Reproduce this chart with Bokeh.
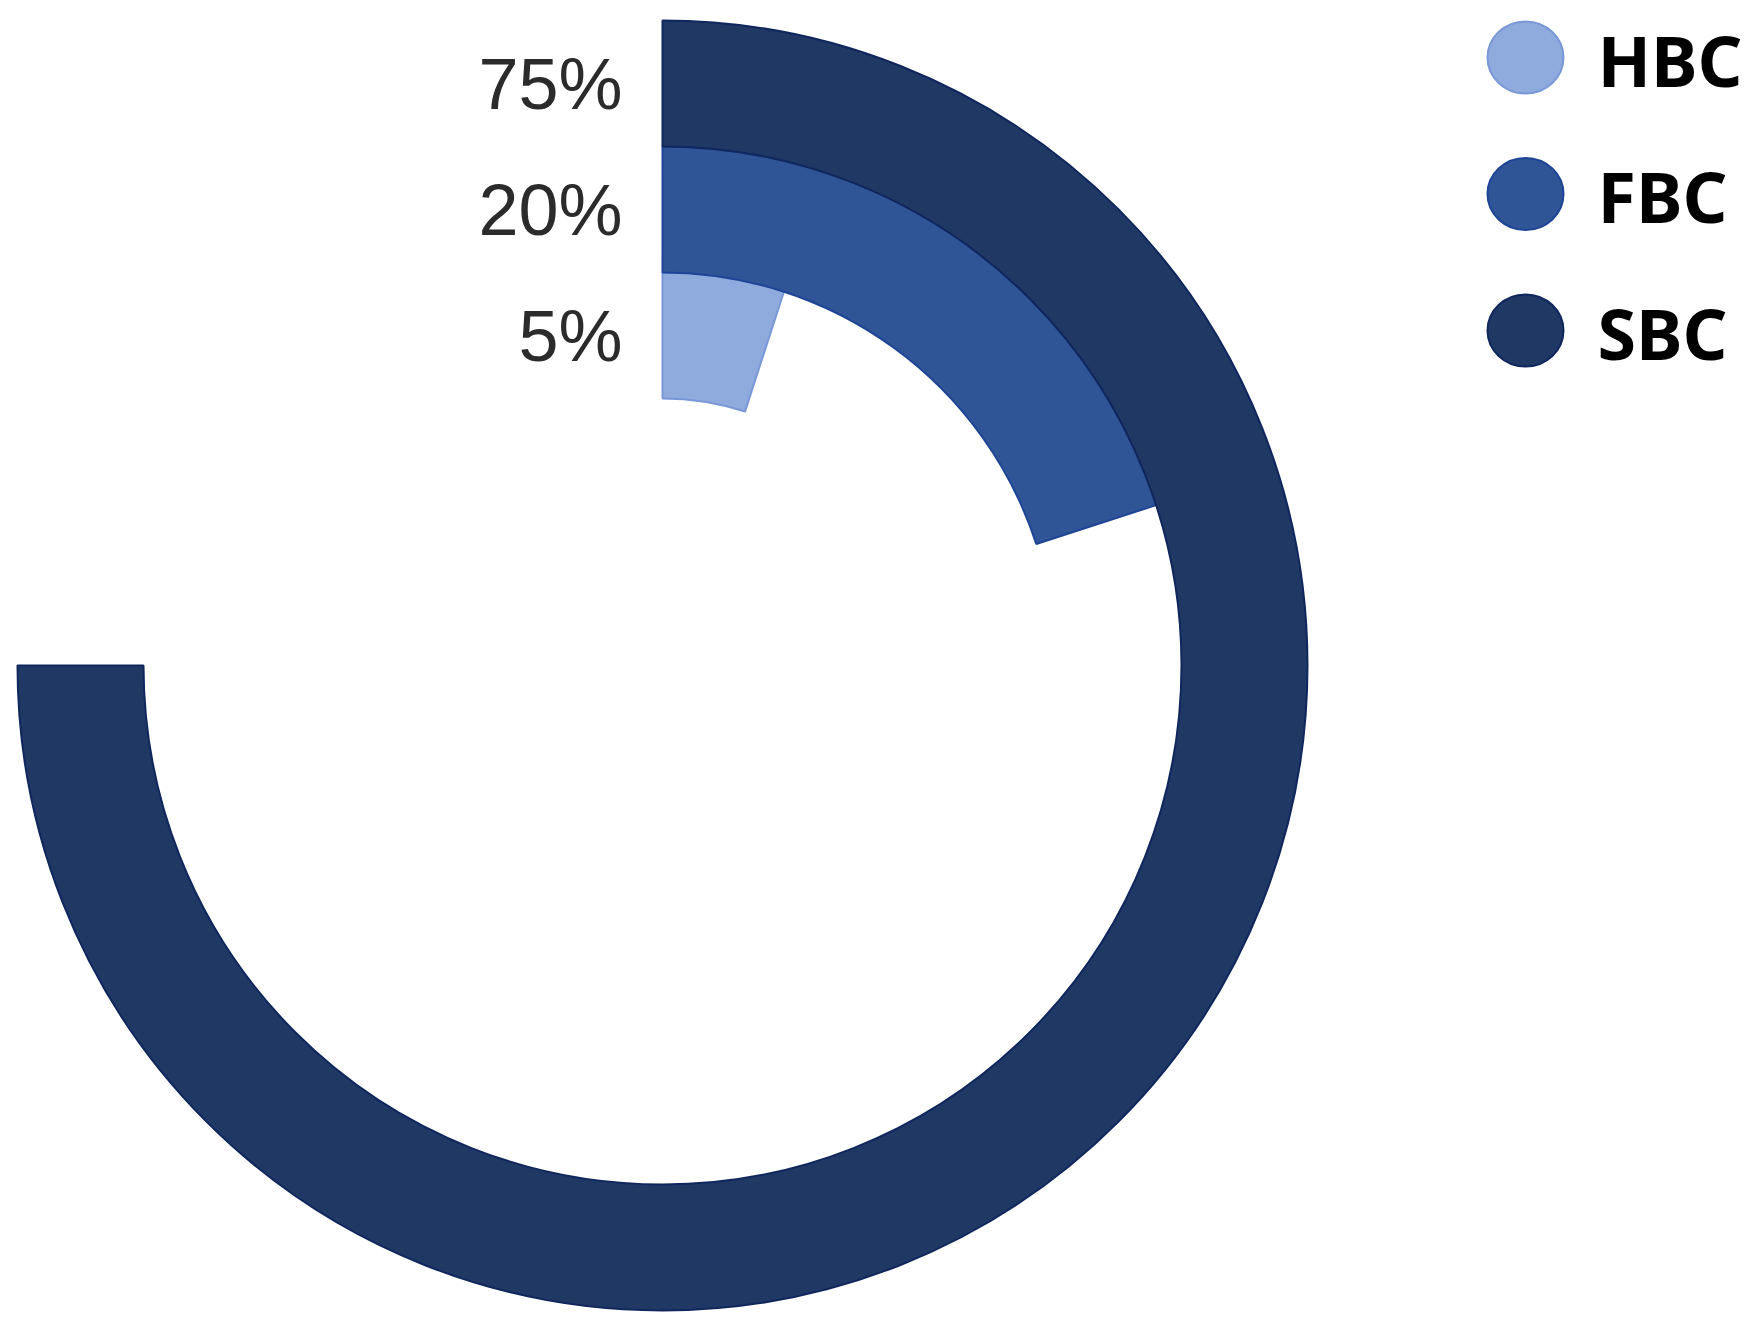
import math
from bokeh.plotting import figure
from bokeh.models import Range1d, ColumnDataSource
from bokeh.core.properties import value
from bokeh.embed import file_html
from bokeh.resources import INLINE

# ---- data ----
categories = ["HBC", "FBC", "SBC"]
percents = [5, 20, 75]
pct_labels = ["5%", "20%", "75%"]
colors = ["#8FAADC", "#2F5597", "#203864"]
edge_colors = ["#7A98D8", "#1E4595", "#10275E"]

# ---- layout (pixel-like data coordinates, y downward negated) ----
W, H = 1747, 1312
p = figure(width=W, height=H, output_backend="svg", toolbar_location=None,
           x_range=Range1d(0, W), y_range=Range1d(-H, 0),
           min_border=0, outline_line_color=None)
p.axis.visible = False
p.grid.visible = False
p.background_fill_color = "white"
p.border_fill_color = "white"

cx, cy = 662, -665
inner0 = 267
band = 126

inner_r, outer_r, starts, ends = [], [], [], []
for i, pc in enumerate(percents):
    inner_r.append(inner0 + i * band)
    outer_r.append(inner0 + (i + 1) * band)
    starts.append(math.pi / 2 - pc / 100 * 2 * math.pi)
    ends.append(math.pi / 2)

src = ColumnDataSource(dict(x=[cx] * 3, y=[cy] * 3, ir=inner_r, orr=outer_r,
                            sa=starts, ea=ends, c=colors, ec=edge_colors))
p.annular_wedge(x="x", y="y", inner_radius="ir", outer_radius="orr",
                start_angle="sa", end_angle="ea", direction="anticlock",
                fill_color="c", line_color="ec", line_width=2, source=src)

# percentage labels, right aligned left of ring start
lab_y = [cy + (ir + orr) / 2 for ir, orr in zip(inner_r, outer_r)]
p.text(x=[622] * 3, y=lab_y, text=pct_labels,
       text_font=value("Arial"), text_font_size="72px",
       text_color="#2b2b2b", text_align="right", text_baseline="middle")

# legend
leg_x = 1525
leg_y = [-57 - i * 136.5 for i in range(3)]
p.ellipse(x=[leg_x] * 3, y=leg_y, width=76, height=72,
          fill_color=colors, line_color=edge_colors, line_width=2)
p.text(x=[1597] * 3, y=[v - 2 for v in leg_y], text=categories,
       text_font=value("Noto Sans"), text_font_style="bold",
       text_font_size="70px", text_color="#000000",
       text_align="left", text_baseline="middle")

open("out.html", "w").write(file_html(p, INLINE))
